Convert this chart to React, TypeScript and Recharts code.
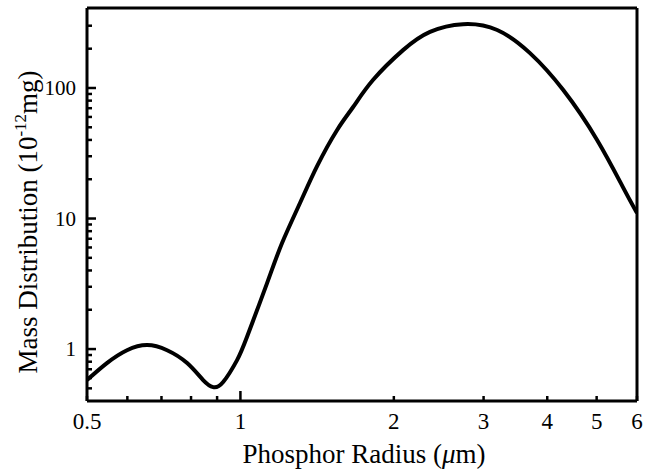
import { LineChart, Line, XAxis, YAxis, Label, ReferenceLine } from 'recharts';

// phosphor radius (um) and mass distribution (1e-12 mg)
const radius = [
  0.5, 0.547, 0.599, 0.656, 0.718, 0.786, 0.845, 0.884, 0.925, 0.985, 1.03,
  1.128, 1.207, 1.309, 1.414, 1.548, 1.664, 1.82, 2.085, 2.355, 2.734, 3.19,
  3.7, 4.3, 5.01, 5.63, 6.0,
];
const mass = [
  0.579, 0.781, 0.98, 1.073, 0.98, 0.781, 0.579, 0.511, 0.559, 0.823, 1.236,
  3.2, 6.49, 13.15, 25.2, 47.7, 71.5, 115, 195, 269, 308, 278,
  185, 96.5, 40, 17.4, 11.0,
];

const xTicks = [0.5, 0.6, 0.7, 0.8, 0.9, 1, 2, 3, 4, 5, 6];
const xLabels = [0.5, 1, 2, 3, 4, 5, 6];
const xMajor = [1];
const yTicks = [
  0.5, 0.6, 0.7, 0.8, 0.9, 1, 2, 3, 4, 5, 6, 7, 8, 9, 10, 20, 30, 40, 50, 60,
  70, 80, 90, 100, 200, 300,
];
const yLabels = [1, 10, 100];

const data = radius.map((r, i) => ({ r, m: mass[i] }));

const FONT = '"Liberation Serif", "DejaVu Serif", serif';

// layout
const W = 650;
const H = 470;
const MARGIN = { top: 8, right: 13, bottom: 39, left: 0 };
const Y_AXIS_W = 87;
const X_AXIS_H = 30;
const PLOT_LEFT = MARGIN.left + Y_AXIS_W;
const PLOT_BOTTOM = H - MARGIN.bottom - X_AXIS_H;

// ticks point into the plot, like the original
function XTick(props: any) {
  const { x, payload } = props;
  const v = payload.value;
  const len = xMajor.includes(v) ? 10 : 5;
  return (
    <g>
      <line x1={x} x2={x} y1={PLOT_BOTTOM} y2={PLOT_BOTTOM - len} stroke="#000" strokeWidth={2.5} />
      {xLabels.includes(v) && (
        <text x={x} y={PLOT_BOTTOM + 28} textAnchor="middle" fontSize={23} fontFamily={FONT} fill="#000">
          {v}
        </text>
      )}
    </g>
  );
}

function YTick(props: any) {
  const { y, payload } = props;
  const v = payload.value;
  const major = yLabels.includes(v);
  return (
    <g>
      <line x1={PLOT_LEFT} x2={PLOT_LEFT + (major ? 9 : 5)} y1={y} y2={y} stroke="#000" strokeWidth={2.5} />
      {major && (
        <text x={PLOT_LEFT - 11} y={y} dy="0.35em" textAnchor="end" fontSize={21} fontFamily={FONT} fill="#000">
          {v}
        </text>
      )}
    </g>
  );
}

export default function App() {
  return (
    <div style={{ position: 'absolute', left: 0, top: 0, background: '#fff' }}>
      <LineChart width={W} height={H} data={data} margin={MARGIN}>
        <XAxis
          dataKey="r"
          type="number"
          scale="log"
          domain={[0.5, 6]}
          allowDataOverflow
          ticks={xTicks}
          interval={0}
          tick={<XTick />}
          tickLine={false}
          tickSize={0}
          tickMargin={0}
          height={X_AXIS_H}
          axisLine={{ stroke: '#000', strokeWidth: 3 }}
        >
          <Label
            content={() => (
              <text x={364} y={463} textAnchor="middle" fontSize={27} fontFamily={FONT} fill="#000">
                Phosphor Radius (<tspan fontStyle="italic">μ</tspan>m)
              </text>
            )}
          />
        </XAxis>
        <YAxis
          type="number"
          scale="log"
          domain={[0.4, 410]}
          allowDataOverflow
          ticks={yTicks}
          interval={0}
          tick={<YTick />}
          tickLine={false}
          tickSize={0}
          tickMargin={0}
          width={Y_AXIS_W}
          axisLine={{ stroke: '#000', strokeWidth: 3 }}
        >
          <Label
            content={() => (
              <text
                x={37}
                y={222}
                transform="rotate(-90, 37, 222)"
                textAnchor="middle"
                fontSize={27}
                fontFamily={FONT}
                fill="#000"
              >
                Mass Distribution (10
                <tspan fontSize={17} dy={-11}>-12</tspan>
                <tspan dy={11}>mg)</tspan>
              </text>
            )}
          />
        </YAxis>
        {/* closing frame: top and right edges */}
        <ReferenceLine y={410} stroke="#000" strokeWidth={3} />
        <ReferenceLine x={6} stroke="#000" strokeWidth={3} />
        <Line
          dataKey="m"
          type="natural"
          stroke="#000"
          strokeWidth={4}
          dot={false}
          isAnimationActive={false}
        />
      </LineChart>
    </div>
  );
}
